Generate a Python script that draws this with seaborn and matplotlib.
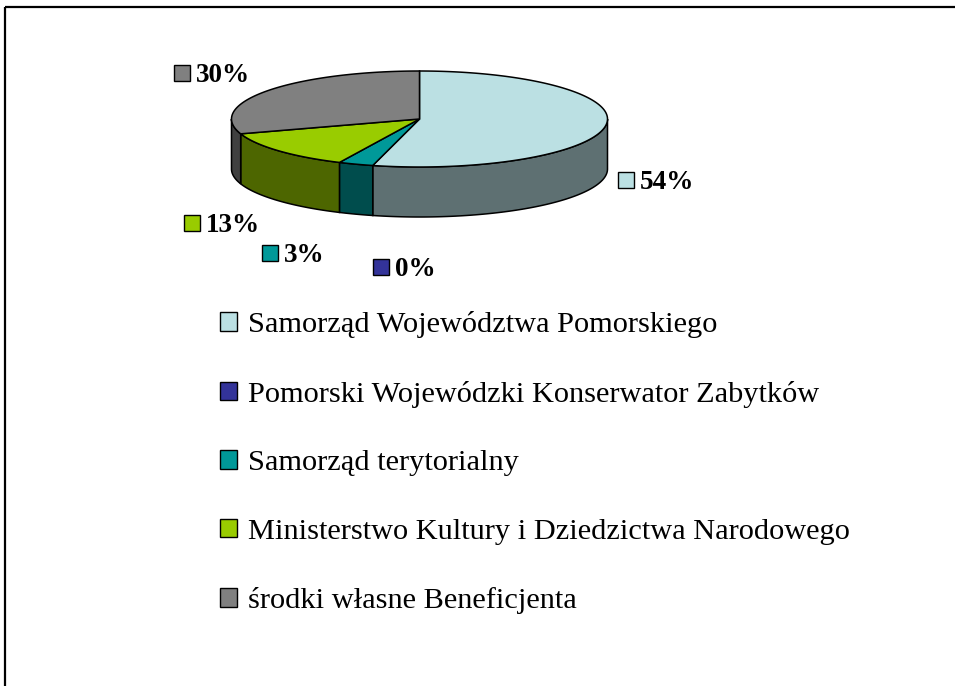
import numpy as np
import matplotlib
matplotlib.use("Agg")
import matplotlib.pyplot as plt
import seaborn as sns
from matplotlib.patches import Polygon, Rectangle, Patch

# ================= DATA =================
CATEGORIES = [
    "Samorząd Województwa Pomorskiego",
    "Pomorski Wojewódzki Konserwator Zabytków",
    "Samorząd terytorialny",
    "Ministerstwo Kultury i Dziedzictwa Narodowego",
    "środki własne Beneficjenta",
]
SHARES = [54, 0, 3, 13, 30]
SHARE_LABELS = ["54%", "0%", "3%", "13%", "30%"]
TOP_COLORS = ["#BBE0E3", "#333399", "#009999", "#99CC00", "#808080"]

# ================= LAYOUT (pixels) =================
W, H = 955, 686
CX, CY = 419.5, 119        # centre of the pie top
RX, RY = 188, 48           # ellipse half axes
DEPTH = 50                 # thickness of the 3D pie
# key-square centres of the data labels (Excel places them by hand)
LABEL_POS = [(626, 180), (381, 267), (270, 253), (192, 223), (182, 73)]
KEY = 16

sns.set_style("white")
plt.rcParams['font.family'] = ['Liberation Serif', 'DejaVu Serif']
plt.rcParams['text.color'] = 'black'

side_colors = [tuple(c * 0.5 for c in sns.color_palette([col])[0]) for col in TOP_COLORS]

fig = plt.figure(figsize=(W / 100, H / 100), dpi=100)
ax = fig.add_axes([0, 0, 1, 1])
ax.set_xlim(0, W)
ax.set_ylim(H, 0)
ax.axis('off')


def ell(t, dy=0.0):
    return np.column_stack([CX + RX * np.cos(t), CY - RY * np.sin(t) + dy])


# slice angles: start at 12 o'clock, go clockwise
fracs = np.array(SHARES, dtype=float) / sum(SHARES)
starts = np.deg2rad(90 - 360 * np.concatenate([[0], np.cumsum(fracs)[:-1]]))
ends = starts - 2 * np.pi * fracs

# side walls (only the front half, angles between -180 and 0 deg)
for s, e, sc in zip(starts, ends, side_colors):
    hi, lo = min(s, 0.0), max(e, -np.pi)
    if hi <= lo:
        continue
    t = np.linspace(hi, lo, 120)
    pts = np.vstack([ell(t), ell(t[::-1], DEPTH)])
    ax.add_patch(Polygon(pts, closed=True, facecolor=sc, edgecolor='black', lw=1.1))

# top faces
for s, e, tc in zip(starts, ends, TOP_COLORS):
    if s - e <= 0:
        continue
    t = np.linspace(s, e, 200)
    pts = np.vstack([[CX, CY], ell(t)])
    ax.add_patch(Polygon(pts, closed=True, facecolor=tc, edgecolor='black', lw=1.1))

# data labels with legend keys
for (lx, ly), lab, tc in zip(LABEL_POS, SHARE_LABELS, TOP_COLORS):
    ax.add_patch(Rectangle((lx - KEY / 2, ly - KEY / 2), KEY, KEY,
                           facecolor=tc, edgecolor='black', lw=1.0))
    ax.text(lx + KEY / 2 + 6, ly + 9, lab, fontsize=19.5, fontweight='bold',
            va='baseline', ha='left', color='black')

# legend
handles = [Patch(facecolor=c, edgecolor='black', lw=1.0) for c in TOP_COLORS]
ax.legend(handles, CATEGORIES, loc='upper left', bbox_to_anchor=(220 / W, 1 - 311 / H),
          frameon=False, fontsize=21.9, handlelength=0.56, handleheight=0.56,
          handletextpad=0.36, labelspacing=1.40, borderpad=0, borderaxespad=0,
          labelcolor='black')

# chart-area border (right and bottom lie outside the picture)
ax.add_patch(Rectangle((5, 7), 1200, 900, fill=False, edgecolor='black', lw=1.6,
                       clip_on=False))

fig.savefig("out.png", dpi=100)
